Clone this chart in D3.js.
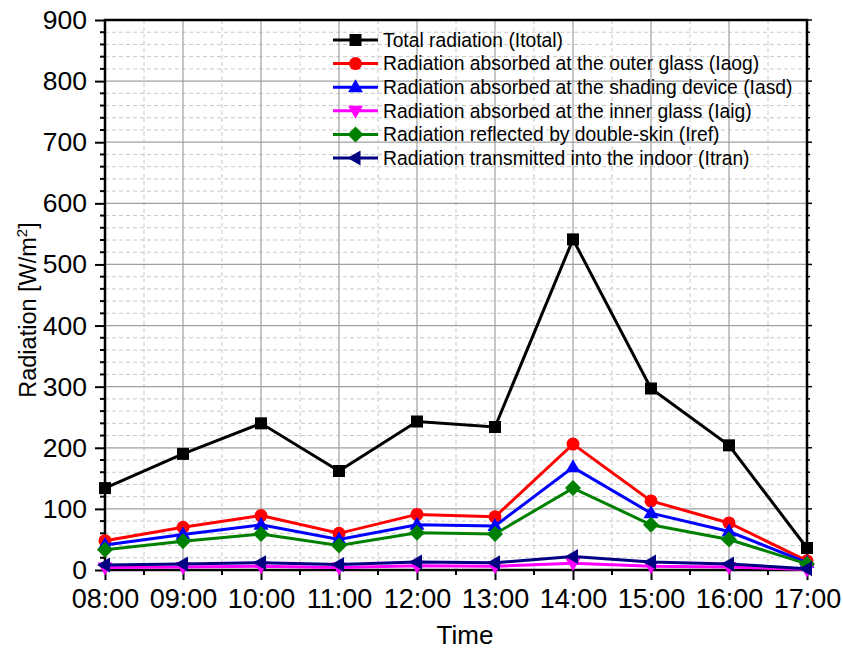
<!DOCTYPE html>
<html>
<head>
<meta charset="utf-8">
<script src="https://cdn.jsdelivr.net/npm/d3@7"></script>
<style>
  body { margin: 0; background: #fff; }
  svg { font-family: "Liberation Sans", Arial, sans-serif; }
</style>
</head>
<body>
<div id="chart"></div>
<script>
const times = ['08:00', '09:00', '10:00', '11:00', '12:00', '13:00', '14:00', '15:00', '16:00', '17:00'];
const itotal = [134, 190, 240, 162, 243, 234, 541, 297, 204, 36];
const iaog = [48, 70, 89, 60, 91, 87, 206, 113, 77, 15];
const iasd = [41, 58, 74, 50, 74, 72, 168, 93, 63, 12];
const iaig = [4, 5, 6, 4, 7, 6, 11, 6, 5, 1];
const iref = [33, 47, 59, 40, 61, 59, 134, 74, 50, 10];
const itran = [8, 10, 12, 9, 13, 12, 22, 13, 10, 2];
const yTicks = [0, 100, 200, 300, 400, 500, 600, 700, 800, 900];

const series = [
  { name: 'Total radiation (Itotal)', values: itotal, color: '#000000', symbol: 'square' },
  { name: 'Radiation absorbed at the outer glass (Iaog)', values: iaog, color: '#ff0000', symbol: 'circle' },
  { name: 'Radiation absorbed at the shading device (Iasd)', values: iasd, color: '#0000ff', symbol: 'up' },
  { name: 'Radiation absorbed at the inner glass (Iaig)', values: iaig, color: '#ff00ff', symbol: 'down' },
  { name: 'Radiation reflected by double-skin (Iref)', values: iref, color: '#008000', symbol: 'diamond' },
  { name: 'Radiation transmitted into the indoor (Itran)', values: itran, color: '#000080', symbol: 'left' },
];

const width = 843, height = 650;
const margin = { top: 20, right: 36, bottom: 80, left: 105 };

const svg = d3.select('#chart').append('svg').attr('width', width).attr('height', height);

const x = d3.scalePoint().domain(times).range([margin.left, width - margin.right]);
const y = d3.scaleLinear().domain([0, 900]).range([height - margin.bottom, margin.top]);

const x0 = margin.left, x1 = width - margin.right;
const y0 = height - margin.bottom, y1 = margin.top;

// minor grid
const step = x.step();
const xMinor = times.slice(0, -1).map((t) => x(t) + step / 2);
const yMinor = d3.range(0, 900, 20).filter((v) => v % 100 !== 0);

const grid = svg.append('g');
grid.selectAll('.yminor').data(yMinor).join('line')
  .attr('x1', x0).attr('x2', x1).attr('y1', (d) => y(d)).attr('y2', (d) => y(d))
  .attr('stroke', '#c8c8c8').attr('stroke-width', 1).attr('stroke-dasharray', '4,3');
grid.selectAll('.xminor').data(xMinor).join('line')
  .attr('x1', (d) => d).attr('x2', (d) => d).attr('y1', y0).attr('y2', y1)
  .attr('stroke', '#c8c8c8').attr('stroke-width', 1).attr('stroke-dasharray', '4,3');
// major grid
grid.selectAll('.ymajor').data(yTicks.slice(1, -1)).join('line')
  .attr('x1', x0).attr('x2', x1).attr('y1', (d) => y(d)).attr('y2', (d) => y(d))
  .attr('stroke', '#a0a0a0').attr('stroke-width', 1.2);
grid.selectAll('.xmajor').data(times.slice(1, -1)).join('line')
  .attr('x1', (d) => x(d)).attr('x2', (d) => x(d)).attr('y1', y0).attr('y2', y1)
  .attr('stroke', '#a0a0a0').attr('stroke-width', 1.2);

// axes
const xAxis = svg.append('g').attr('transform', `translate(0,${y0})`)
  .call(d3.axisBottom(x).tickSize(10).tickPadding(9));
xAxis.selectAll('.tick text').style('font-size', '27px').attr('fill', '#000');
xAxis.append('g').selectAll('line').data(xMinor).join('line')
  .attr('x1', (d) => d).attr('x2', (d) => d).attr('y1', 0).attr('y2', 5)
  .attr('stroke', '#000').attr('stroke-width', 2);

const yAxis = svg.append('g').attr('transform', `translate(${x0},0)`)
  .call(d3.axisLeft(y).tickValues(yTicks).tickSize(10).tickPadding(8));
yAxis.selectAll('.tick text').style('font-size', '26.5px').attr('fill', '#000');
yAxis.append('g').selectAll('line').data(yMinor).join('line')
  .attr('x1', 0).attr('x2', -5).attr('y1', (d) => y(d)).attr('y2', (d) => y(d))
  .attr('stroke', '#000').attr('stroke-width', 2);

[xAxis, yAxis].forEach((a) => {
  a.select('.domain').remove();
  a.selectAll('.tick line').attr('stroke', '#000').attr('stroke-width', 2);
});

// right axis ticks
const rAxis = svg.append('g').attr('transform', `translate(${x1},0)`);
rAxis.selectAll('line').data(d3.range(0, 901, 20)).join('line')
  .attr('x1', 0).attr('x2', (d) => (d % 100 === 0 ? 5 : 3)).attr('y1', (d) => y(d)).attr('y2', (d) => y(d))
  .attr('stroke', '#000').attr('stroke-width', 1.5);

// frame
svg.append('rect').attr('x', x0).attr('y', y1).attr('width', x1 - x0).attr('height', y0 - y1)
  .attr('fill', 'none').attr('stroke', '#000').attr('stroke-width', 2.5);

// axis titles
svg.append('text').attr('x', 465).attr('y', 644).attr('text-anchor', 'middle')
  .style('font-size', '26px').text('Time');
const yl = svg.append('text').attr('transform', `translate(36,310) rotate(-90)`)
  .attr('text-anchor', 'middle').style('font-size', '23.5px');
yl.append('tspan').text('Radiation [W/m');
yl.append('tspan').attr('dy', -9).style('font-size', '15px').text('2');
yl.append('tspan').attr('dy', 9).text(']');

// markers
function marker(sel, symbol, color) {
  if (symbol === 'square') {
    sel.append('rect').attr('x', -6).attr('y', -6).attr('width', 12).attr('height', 12).attr('fill', color);
  } else if (symbol === 'circle') {
    sel.append('circle').attr('r', 6.5).attr('fill', color);
  } else {
    const pts = {
      up: [[0, -8], [7.5, 5], [-7.5, 5]],
      down: [[0, 8], [7.5, -5], [-7.5, -5]],
      left: [[-8, 0], [5, -7.5], [5, 7.5]],
      diamond: [[0, -8], [8, 0], [0, 8], [-8, 0]],
    }[symbol];
    sel.append('polygon').attr('points', pts.map((p) => p.join(',')).join(' ')).attr('fill', color);
  }
}

const line = d3.line().x((d, i) => x(times[i])).y((d) => y(d));
const plot = svg.append('g');
series.forEach((s) => {
  const g = plot.append('g');
  g.append('path').datum(s.values).attr('d', line)
    .attr('fill', 'none').attr('stroke', s.color).attr('stroke-width', 3);
  g.selectAll('g.m').data(s.values).join('g').attr('class', 'm')
    .attr('transform', (d, i) => `translate(${x(times[i])},${y(d)})`)
    .each(function () { marker(d3.select(this), s.symbol, s.color); });
});

// legend
const legend = svg.append('g').attr('transform', 'translate(333,40)');
series.forEach((s, i) => {
  const g = legend.append('g').attr('transform', `translate(0,${i * 23.6})`);
  g.append('line').attr('x1', 0).attr('x2', 45).attr('stroke', s.color).attr('stroke-width', 3);
  const m = g.append('g').attr('transform', 'translate(22.5,0)');
  marker(m, s.symbol, s.color);
  g.append('text').attr('x', 50).attr('dy', '0.35em').style('font-size', '19.3px').text(s.name);
});
</script>
</body>
</html>
